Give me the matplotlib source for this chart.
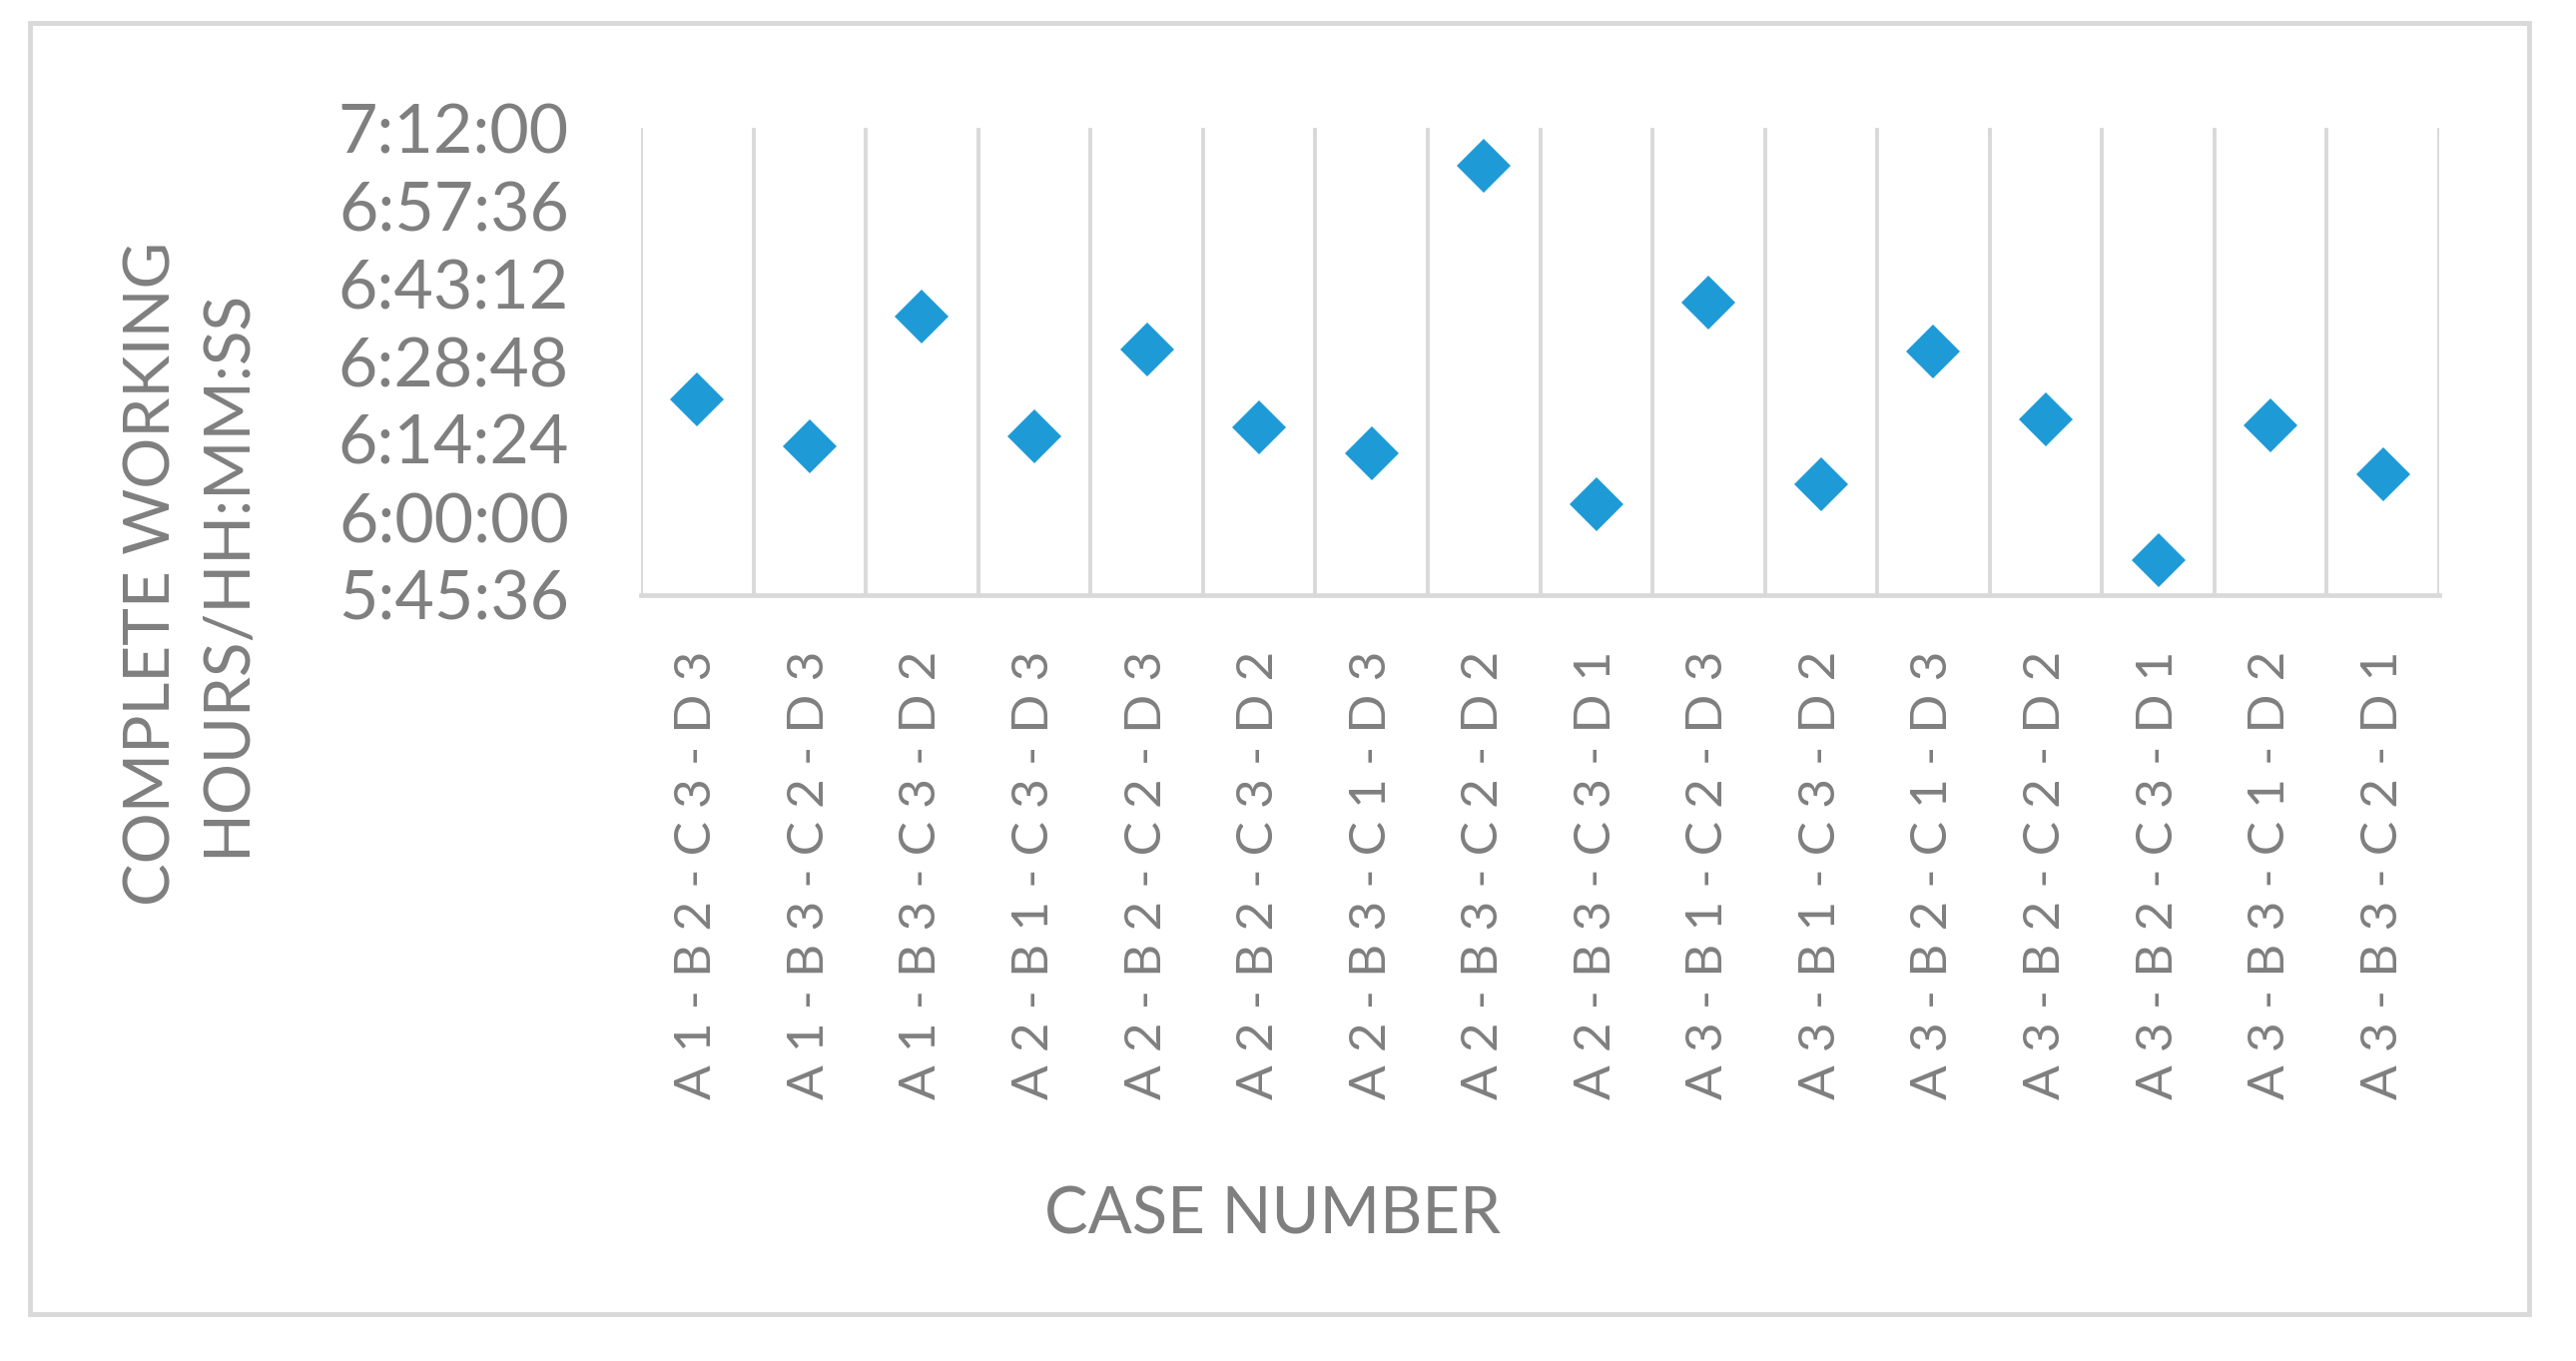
#!/usr/bin/env python3
"""Complete working hours per case number (scatter of diamonds, Excel style)."""
import matplotlib
matplotlib.use("Agg")
import matplotlib.pyplot as plt
from matplotlib.patches import Rectangle
from matplotlib.ticker import FuncFormatter, MultipleLocator

cases = [
    "A1-B2-C3-D3", "A1-B3-C2-D3", "A1-B3-C3-D2", "A2-B1-C3-D3",
    "A2-B2-C2-D3", "A2-B2-C3-D2", "A2-B3-C1-D3", "A2-B3-C2-D2",
    "A2-B3-C3-D1", "A3-B1-C2-D3", "A3-B1-C3-D2", "A3-B2-C1-D3",
    "A3-B2-C2-D2", "A3-B2-C3-D1", "A3-B3-C1-D2", "A3-B3-C2-D1",
]
# working hours as a fraction of one day (spreadsheet time value)
hours = [
    0.2651, 0.2591, 0.2758, 0.2604,
    0.2715, 0.2616, 0.2582, 0.2951,
    0.2517, 0.2776, 0.2542, 0.2713,
    0.2626, 0.2445, 0.2618, 0.2555,
]
y_min, y_max, y_step = 0.24, 0.30, 0.01

TEXT = "#7f7f7f"
GRID = "#d9d9d9"
BLUE = "#1e9bd7"

plt.rcParams["font.family"] = ["Lato", "DejaVu Sans"]

W, H = 2580, 1363
fig = plt.figure(figsize=(W / 100, H / 100), dpi=100)
fig.patch.set_facecolor("white")

# outer chart border
fig.add_artist(Rectangle((30 / W, 1 - 1316 / H), (2533 - 30) / W, (1316 - 23) / H,
                         transform=fig.transFigure, fill=False,
                         edgecolor=GRID, linewidth=3.5))

left, right, top, bottom = 642, 2443, 128, 596
ax = fig.add_axes([left / W, 1 - bottom / H, (right - left) / W, (bottom - top) / H])

x = list(range(1, len(cases) + 1))
ax.plot(x, hours, linestyle="none", marker="D", markersize=27,
        color=BLUE, markeredgewidth=0, clip_on=False)

ax.set_xlim(0.5, len(cases) + 0.5)
ax.set_ylim(y_min, y_max)

def fmt_time(v, _pos):
    secs = int(round(v * 86400))
    return f"{secs // 3600}:{secs % 3600 // 60:02d}:{secs % 60:02d}"

ax.yaxis.set_major_locator(MultipleLocator(y_step))
ax.yaxis.set_major_formatter(FuncFormatter(fmt_time))
ax.tick_params(axis="y", length=0, pad=52, labelsize=49, labelcolor=TEXT)

ax.set_xticks(x)
ax.set_xticklabels([" ".join(c) for c in cases], rotation=90)
ax.set_xticks([i + 0.5 for i in range(len(cases) + 1)], minor=True)
ax.tick_params(axis="x", which="both", length=0, pad=40, labelsize=37, labelcolor=TEXT)
ax.grid(axis="x", which="minor", color=GRID, linewidth=2.8)
ax.grid(axis="x", which="major", visible=False)
ax.set_axisbelow(True)

for side in ("left", "right", "top"):
    ax.spines[side].set_visible(False)
ax.spines["bottom"].set_color(GRID)
ax.spines["bottom"].set_linewidth(3.4)

fig.text(190 / W, 1 - 574 / H, "COMPLETE WORKING\nHOURS/HH:MM:SS", rotation=90,
         ha="center", va="center", multialignment="center", fontsize=46,
         color=TEXT, linespacing=1.35)
fig.text(1275 / W, 1 - 1217 / H, "CASE NUMBER", ha="center", va="center",
         fontsize=47, color=TEXT)

fig.savefig("out.png", dpi=100)
